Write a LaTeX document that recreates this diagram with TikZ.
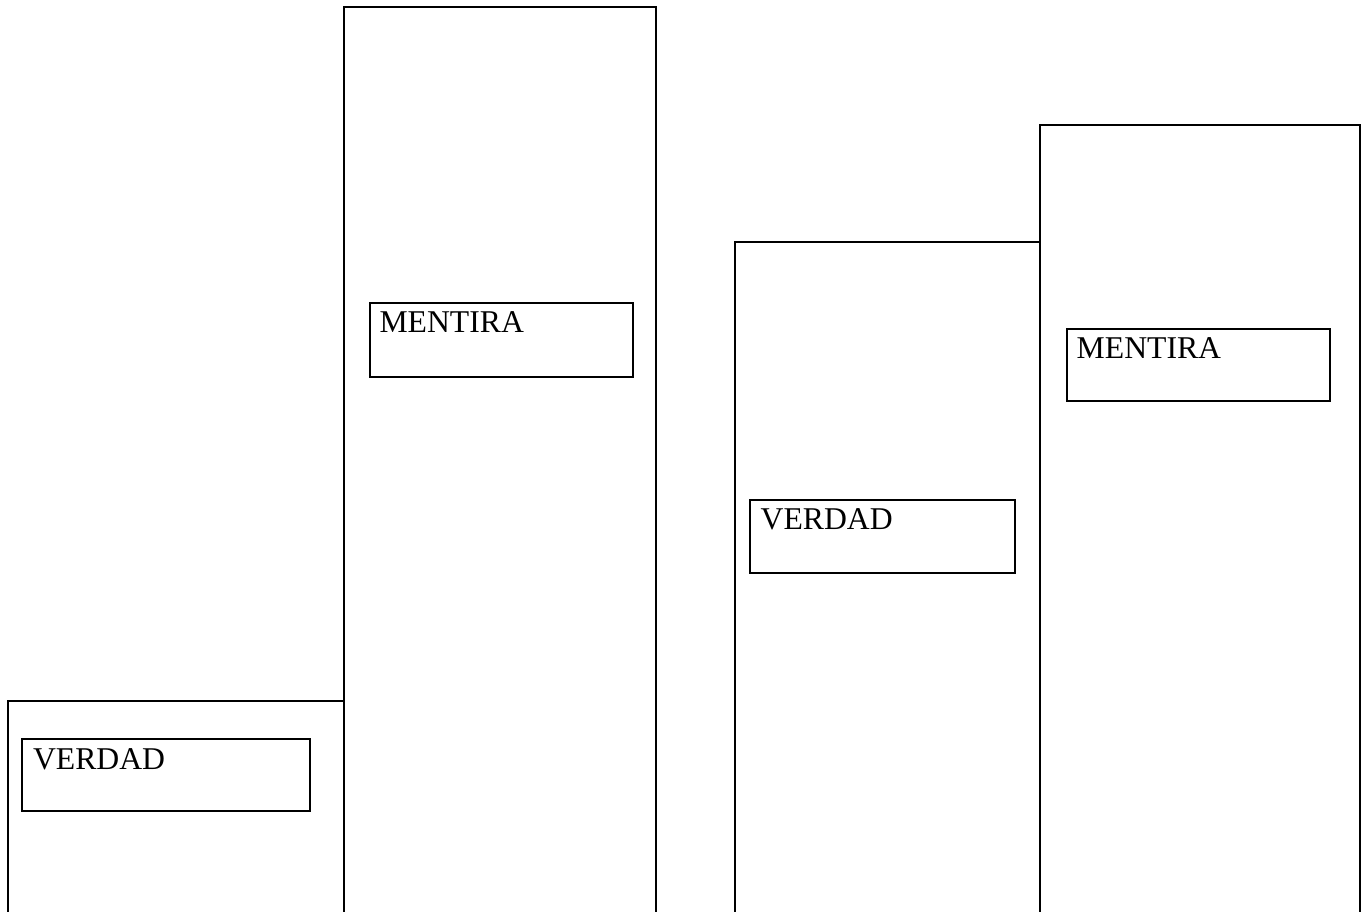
\documentclass[tikz,border=0pt]{standalone}
\usepackage{fontspec}
\setmainfont{Liberation Serif}
\begin{document}
\begin{tikzpicture}[x=1pt,y=-1pt,
  column/.style={draw=black,line width=2pt},
  labelbox/.style={draw=black,line width=2pt,inner sep=0pt,outer sep=0pt,anchor=north west},
  labeltext/.style={anchor=base west,inner sep=0pt,outer sep=0pt,font=\fontsize{31.7}{36}\selectfont}]
\useasboundingbox (0,0) rectangle (1369,912);
\clip (0,0) rectangle (1369,912);
\draw[column] (8,930) -- (8,701) -- (344,701) -- (344,930);
\draw[column] (344,930) -- (344,7) -- (656,7) -- (656,930);
\draw[column] (735,930) -- (735,242) -- (1040,242) -- (1040,930);
\draw[column] (1040,930) -- (1040,125) -- (1360,125) -- (1360,930);
\node[labelbox,minimum width=288pt,minimum height=72pt] (b1) at (22,739) {};
\node[labelbox,minimum width=263pt,minimum height=74pt] (b2) at (369.5,303) {};
\node[labelbox,minimum width=265pt,minimum height=73pt] (b3) at (749.5,500) {};
\node[labelbox,minimum width=263pt,minimum height=72pt] (b4) at (1067,329) {};
\node[labeltext] (t1) at (33,769) {VERDAD};
\node[labeltext] (t2) at (379.5,332.7) {MENTIRA};
\node[labeltext] (t3) at (760.7,529.3) {VERDAD};
\node[labeltext] (t4) at (1076.7,358.3) {MENTIRA};
\end{tikzpicture}
\end{document}
